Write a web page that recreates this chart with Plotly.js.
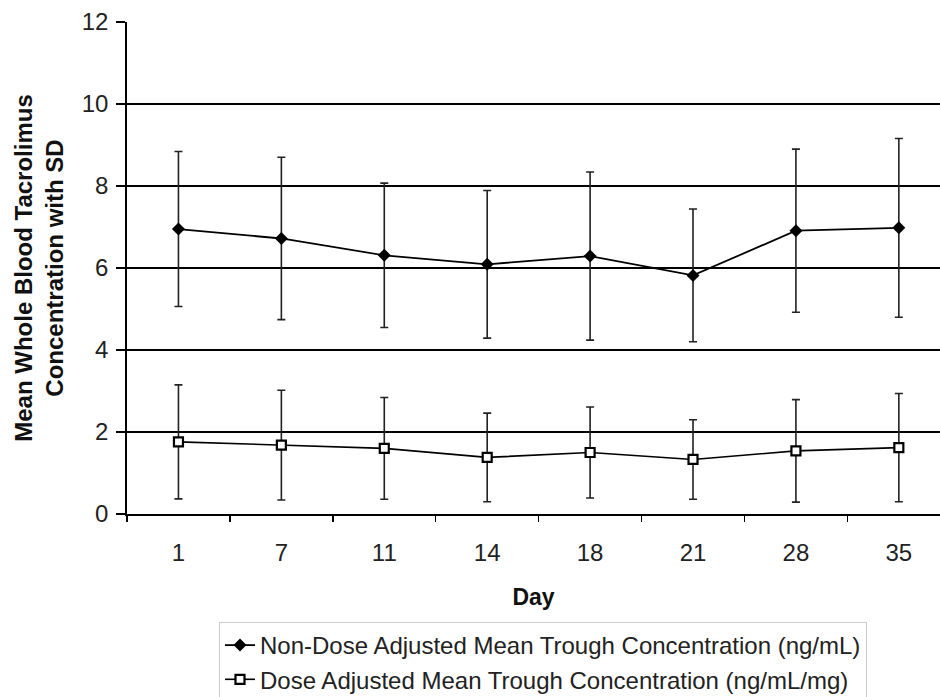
<!DOCTYPE html>
<html>
<head>
<meta charset="utf-8">
<script src="https://cdn.plot.ly/plotly-3.0.1.min.js"></script>
<style>html,body{margin:0;padding:0;background:#fff;}#chart{width:940px;height:697px;}</style>
</head>
<body>
<div id="chart"></div>
<script>
// Data
const days = ['1', '7', '11', '14', '18', '21', '28', '35'];
const nonDoseMean = [6.95, 6.72, 6.31, 6.09, 6.29, 5.82, 6.91, 6.98];
const nonDoseSD   = [1.89, 1.98, 1.76, 1.80, 2.05, 1.62, 1.99, 2.18];
const doseAdjMean = [1.76, 1.68, 1.60, 1.38, 1.50, 1.33, 1.54, 1.62];
const doseAdjSD   = [1.39, 1.34, 1.24, 1.08, 1.11, 0.97, 1.25, 1.32];
const yTicks = [0, 2, 4, 6, 8, 10, 12];

const FONT = 'Liberation Sans, Arial, sans-serif';

const traces = [
  {
    x: days, y: nonDoseMean, type: 'scatter', mode: 'lines+markers',
    name: 'Non-Dose Adjusted Mean Trough Concentration (ng/mL)',
    line: {color: '#000', width: 1.8},
    marker: {symbol: 'diamond', size: 10, color: '#000'},
    error_y: {type: 'data', array: nonDoseSD, visible: true, color: '#222', thickness: 1.6, width: 4}
  },
  {
    x: days, y: doseAdjMean, type: 'scatter', mode: 'lines+markers',
    name: 'Dose Adjusted Mean Trough Concentration (ng/mL/mg)',
    line: {color: '#000', width: 1.6},
    marker: {symbol: 'square', size: 9, color: '#fff', line: {color: '#000', width: 2.2}},
    error_y: {type: 'data', array: doseAdjSD, visible: true, color: '#222', thickness: 1.6, width: 4}
  }
];

const layout = {
  width: 940, height: 697,
  margin: {l: 127, r: 0, t: 22, b: 183, autoexpand: false},
  paper_bgcolor: '#fff', plot_bgcolor: '#fff',
  font: {family: FONT, color: '#222', size: 24},
  showlegend: true,
  xaxis: {
    type: 'category',
    range: [-0.5, 7.4],
    showgrid: false, zeroline: false,
    showline: true, linecolor: '#000', linewidth: 1.8,
    ticks: 'outside', tickson: 'boundaries', ticklen: 6, tickwidth: 1.5, tickcolor: '#000',
    ticklabelstandoff: 16,
    tickangle: 0,
    tickfont: {family: FONT, size: 24, color: '#222'},
    title: {text: '<b>Day</b>', font: {family: FONT, size: 23, color: '#111'}, standoff: 24},
    fixedrange: true
  },
  yaxis: {
    range: [0, 12],
    tickvals: yTicks,
    showgrid: true, gridcolor: '#000', gridwidth: 1.6,
    zeroline: false,
    showline: true, linecolor: '#000', linewidth: 1.8,
    ticks: 'outside', ticklen: 9, tickwidth: 1.5, tickcolor: '#000',
    ticklabelstandoff: 3,
    tickfont: {family: FONT, size: 24, color: '#222'},
    title: {text: '<b>Mean Whole Blood Tacrolimus<br>Concentration with SD</b>', font: {family: FONT, size: 24, color: '#111'}, standoff: 11},
    fixedrange: true
  },
  legend: {
    x: (219 - 127) / 813, y: (514 - 622) / 492, xanchor: 'left', yanchor: 'top',
    bgcolor: '#fff', bordercolor: '#ccc', borderwidth: 1,
    font: {family: FONT, size: 24, color: '#222'},
    tracegroupgap: 0
  }
};

Plotly.newPlot('chart', traces, layout, {displayModeBar: false, staticPlot: true});
</script>
</body>
</html>
